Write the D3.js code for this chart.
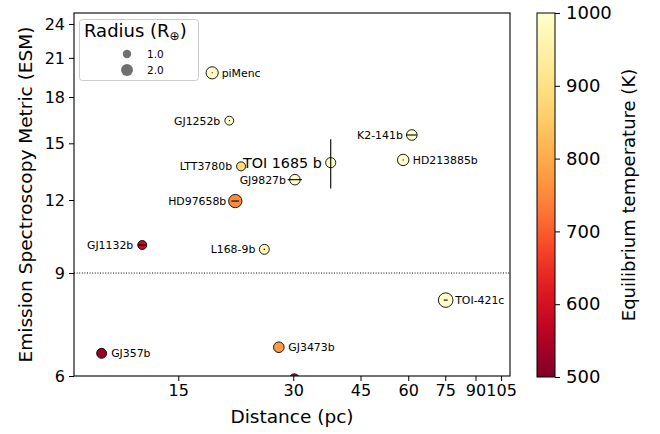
<!DOCTYPE html>
<html>
<head>
<meta charset="utf-8">
<script src="https://cdn.jsdelivr.net/npm/d3@7"></script>
<style>
  body { margin: 0; background: #fff; }
  svg { font-family: "DejaVu Sans", sans-serif; display: block; }
</style>
</head>
<body>
<svg id="chart" width="660" height="434"></svg>
<script>
// planets (distance in pc, ESM, planet radius in Earth radii, Teq in K)
const names    = ['piMenc', 'GJ1252b', 'LTT3780b', 'TOI 1685 b', 'GJ9827b', 'HD97658b', 'K2-141b', 'HD213885b', 'GJ1132b', 'L168-9b', 'GJ357b', 'GJ3473b', 'TOI-421c', ''];
const distance = [18.4, 20.4, 21.9, 37.6, 30.3, 21.15, 61.3, 58.2, 12.07, 25.2, 9.45, 27.5, 75.2, 30.2];
const distErr  = [0.05, 0.05, 0, 0, 1.3, 0.5, 1.9, 0.2, 0.3, 0.1, 0, 0, 0.9, 0];
const esm      = [19.8, 16.4, 13.7, 13.9, 13.0, 11.95, 15.5, 14.05, 10.05, 9.88, 6.56, 6.72, 8.09, 5.93];
const esmErr   = [0, 0, 0, 1.35, 0, 0, 0, 0, 0, 0, 0, 0, 0, 0];
const radius   = [2.1, 1.1, 1.15, 1.45, 1.6, 2.5, 1.6, 1.85, 1.15, 1.4, 1.4, 1.6, 3.0, 1.5];
const teq      = [990, 1000, 890, 1000, 1000, 755, 1000, 1000, 585, 965, 528, 775, 995, 590];

const xTicks = [15, 30, 45, 60, 75, 90, 105];
const yTicks = [6, 9, 12, 15, 18, 21, 24];
const cTicks = [500, 600, 700, 800, 900, 1000];
const legendRadii = [1.0, 2.0];
const esmCut = 9;

// which labels sit left of their point
const leftLabels = ['GJ1252b', 'LTT3780b', 'TOI 1685 b', 'GJ9827b', 'HD97658b', 'K2-141b', 'GJ1132b', 'L168-9b'];

const svg = d3.select('#chart');
const plot = { left: 74, right: 510, top: 13, bottom: 376 };

const x = d3.scaleLog().domain([8.0, 110.8]).range([plot.left, plot.right]);
const y = d3.scaleLog().domain([6, 25.06]).range([plot.bottom, plot.top]);
const r = d3.scaleSqrt().domain([0, 1]).range([0, 4.2]);
const color = t => d3.interpolateYlOrRd(1 - Math.max(0, Math.min(1, (t - 500) / 500)));

svg.append('defs').append('clipPath').attr('id', 'clip')
  .append('rect')
  .attr('x', plot.left).attr('y', plot.top)
  .attr('width', plot.right - plot.left).attr('height', plot.bottom - plot.top);

// dotted cut line
svg.append('line')
  .attr('x1', plot.left).attr('x2', plot.right)
  .attr('y1', y(esmCut)).attr('y2', y(esmCut))
  .attr('stroke', '#000').attr('stroke-width', 1).attr('stroke-dasharray', '1,1.6');

const data = names.map((n, i) => ({
  name: n, d: distance[i], de: distErr[i], esm: esm[i], ee: esmErr[i], rad: radius[i], t: teq[i]
}));

const g = svg.append('g').attr('clip-path', 'url(#clip)');

g.selectAll('circle.pt')
  .data(data)
  .enter()
  .append('circle')
  .attr('class', 'pt')
  .attr('cx', d => x(d.d))
  .attr('cy', d => y(d.esm))
  .attr('r', d => r(d.rad))
  .attr('fill', d => color(d.t))
  .attr('stroke', '#000')
  .attr('stroke-width', 0.9);

// error bars on top
g.selectAll('line.xerr')
  .data(data.filter(d => d.de > 0))
  .enter()
  .append('line')
  .attr('x1', d => x(d.d - d.de)).attr('x2', d => Math.max(x(d.d + d.de), x(d.d - d.de) + 1))
  .attr('y1', d => y(d.esm)).attr('y2', d => y(d.esm))
  .attr('stroke', '#000').attr('stroke-width', 1.1);

g.selectAll('line.yerr')
  .data(data.filter(d => d.ee > 0))
  .enter()
  .append('line')
  .attr('x1', d => x(d.d)).attr('x2', d => x(d.d))
  .attr('y1', d => y(d.esm - d.ee)).attr('y2', d => y(d.esm + d.ee))
  .attr('stroke', '#000').attr('stroke-width', 1.1);

// labels
svg.selectAll('text.lbl')
  .data(data.filter(d => d.name))
  .enter()
  .append('text')
  .attr('class', 'lbl')
  .attr('x', d => x(d.d) + (leftLabels.includes(d.name) ? -9 : 9.5))
  .attr('y', d => y(d.esm))
  .attr('dy', '0.36em')
  .attr('text-anchor', d => leftLabels.includes(d.name) ? 'end' : 'start')
  .attr('font-size', d => d.name === 'TOI 1685 b' ? 14.3 : 10.9)
  .attr('fill', '#000')
  .text(d => d.name);

// axes
const xAxis = svg.append('g')
  .attr('transform', `translate(0,${plot.bottom})`)
  .call(d3.axisBottom(x).tickValues(xTicks).tickFormat(d3.format('d')).tickSize(5).tickPadding(4));
const yAxis = svg.append('g')
  .attr('transform', `translate(${plot.left},0)`)
  .call(d3.axisLeft(y).tickValues(yTicks).tickFormat(d3.format('d')).tickSize(5).tickPadding(4));
[xAxis, yAxis].forEach(a => {
  a.select('.domain').remove();
  a.selectAll('text').attr('font-size', 16).attr('font-family', 'DejaVu Sans').attr('fill', '#000');
  a.selectAll('line').attr('stroke', '#000').attr('stroke-width', 1);
});

svg.append('rect')
  .attr('x', plot.left).attr('y', plot.top)
  .attr('width', plot.right - plot.left).attr('height', plot.bottom - plot.top)
  .attr('fill', 'none').attr('stroke', '#000').attr('stroke-width', 1.1);

svg.append('text')
  .attr('x', (plot.left + plot.right) / 2).attr('y', 423)
  .attr('text-anchor', 'middle').attr('font-size', 18.5)
  .text('Distance (pc)');
svg.append('text')
  .attr('transform', `translate(32,${(plot.top + plot.bottom) / 2}) rotate(-90)`)
  .attr('text-anchor', 'middle').attr('font-size', 18.5)
  .text('Emission Spectroscopy Metric (ESM)');

// size legend
const leg = svg.append('g');
leg.append('rect')
  .attr('x', 79.5).attr('y', 19.5).attr('width', 119).attr('height', 61).attr('rx', 3)
  .attr('fill', '#fff').attr('fill-opacity', 0.8).attr('stroke', '#ccc').attr('stroke-width', 1);
const title = leg.append('text').attr('x', 84).attr('y', 37).attr('font-size', 18);
title.append('tspan').text('Radius (R');
title.append('tspan').attr('font-size', 12).attr('dy', 3).text('⊕');
title.append('tspan').attr('dy', -3).text(')');
legendRadii.forEach((v, i) => {
  const cy = 54 + i * 16;
  leg.append('circle').attr('cx', 127).attr('cy', cy).attr('r', r(v)).attr('fill', '#707070');
  leg.append('text').attr('x', 147).attr('y', cy).attr('dy', '0.36em')
    .attr('font-size', 10.5).text(d3.format('.1f')(v));
});

// colorbar
const cb = { x: 537, w: 18, top: 13, bottom: 377 };
const c = d3.scaleLinear().domain([500, 1000]).range([cb.bottom, cb.top]);
const grad = svg.select('defs').append('linearGradient')
  .attr('id', 'cgrad').attr('x1', 0).attr('x2', 0).attr('y1', 0).attr('y2', 1);
d3.range(0, 1.0001, 0.05).forEach(t => {
  grad.append('stop').attr('offset', t).attr('stop-color', d3.interpolateYlOrRd(t));
});
svg.append('rect')
  .attr('x', cb.x).attr('y', cb.top).attr('width', cb.w).attr('height', cb.bottom - cb.top)
  .attr('fill', 'url(#cgrad)').attr('stroke', '#000').attr('stroke-width', 1);
const cAxis = svg.append('g')
  .attr('transform', `translate(${cb.x + cb.w},0)`)
  .call(d3.axisRight(c).tickValues(cTicks).tickFormat(d3.format('d')).tickSize(5).tickPadding(6));
cAxis.select('.domain').remove();
cAxis.selectAll('text').attr('font-size', 18).attr('font-family', 'DejaVu Sans').attr('fill', '#000');
cAxis.selectAll('line').attr('stroke', '#000');

svg.append('text')
  .attr('transform', `translate(635,${(cb.top + cb.bottom) / 2}) rotate(-90)`)
  .attr('text-anchor', 'middle').attr('font-size', 18)
  .text('Equilibrium temperature (K)');
</script>
</body>
</html>
